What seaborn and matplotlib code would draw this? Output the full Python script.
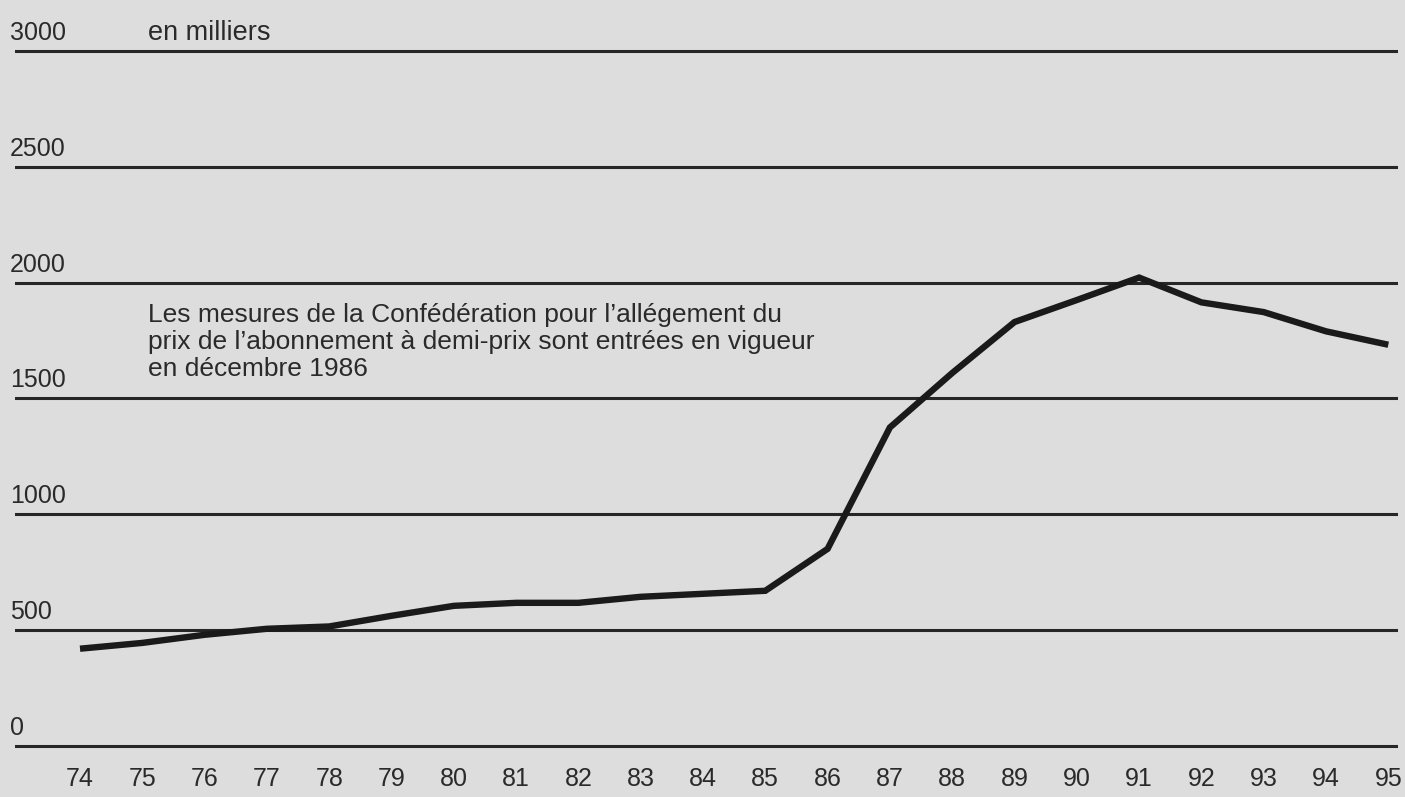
import numpy as np
import pandas as pd
import seaborn as sns
import matplotlib.pyplot as plt
import matplotlib.transforms as mtransforms

# Data: half-fare subscriptions (thousands), 1974-1995
years = list(range(74, 96))
values = [420, 445, 480, 506, 516, 562, 605, 618, 618, 644, 657, 670,
          851, 1375, 1610, 1830, 1925, 2022, 1915, 1873, 1790, 1732]
y_levels = [0, 500, 1000, 1500, 2000, 2500, 3000]
year_labels = [str(y) for y in years]

df = pd.DataFrame({"year": years, "value": values})

sns.set_theme(style="white")
plt.rcParams['font.family'] = ['Liberation Sans Narrow', 'Liberation Sans', 'DejaVu Sans']

bg = "#dddddd"
W, H = 1405, 797
fig = plt.figure(figsize=(W / 100, H / 100), dpi=100)
fig.patch.set_facecolor(bg)

# axes box in pixels: x 15..1398, y 40..760 (from top)
left, right, top, bottom = 15, 1398, 40, 760
ax = fig.add_axes([left / W, 1 - bottom / H, (right - left) / W, (bottom - top) / H])
ax.set_facecolor(bg)

px_per_year = 62.3
ax.set_xlim(74 - (80 - left) / px_per_year, 74 + (right - 80) / px_per_year)
units_per_px = 3000 / (746 - 51)
ax.set_ylim(0 - (bottom - 746) * units_per_px, 3000 + (51 - top) * units_per_px)

for s in ax.spines.values():
    s.set_visible(False)

for lvl in y_levels:
    ax.axhline(lvl, color="#262626", lw=2.2, zorder=1)

sns.lineplot(data=df, x="year", y="value", ax=ax, color="#1a1a1a", lw=4.6,
             zorder=3, solid_joinstyle="miter", solid_capstyle="butt")

# y labels sit above each rule at the far left
trans = mtransforms.blended_transform_factory(fig.transFigure, ax.transData)
for lvl in y_levels:
    ax.text(10 / W, lvl + 11 * units_per_px, str(lvl), transform=trans,
            fontsize=18, color="#2a2a2a", ha="left", va="baseline", clip_on=False)

ax.text(148 / W, 3000 + 11 * units_per_px, "en milliers", transform=trans,
        fontsize=19.5, color="#2a2a2a", ha="left", va="baseline")

note = ["Les mesures de la Confédération pour l’allégement du",
        "prix de l’abonnement à demi-prix sont entrées en vigueur",
        "en décembre 1986"]
for i, line in enumerate(note):
    ax.text(148 / W, 1500 + (22 + (2 - i) * 27) * units_per_px, line, transform=trans,
            fontsize=19, color="#2a2a2a", ha="left", va="baseline")

ax.set_xticks(years)
ax.set_xticklabels(year_labels, fontsize=18, color="#2a2a2a")
ax.set_yticks([])
ax.tick_params(axis="x", length=0, pad=5)
ax.set_xlabel("")
ax.set_ylabel("")

fig.savefig("out.png", dpi=100, facecolor=bg)
